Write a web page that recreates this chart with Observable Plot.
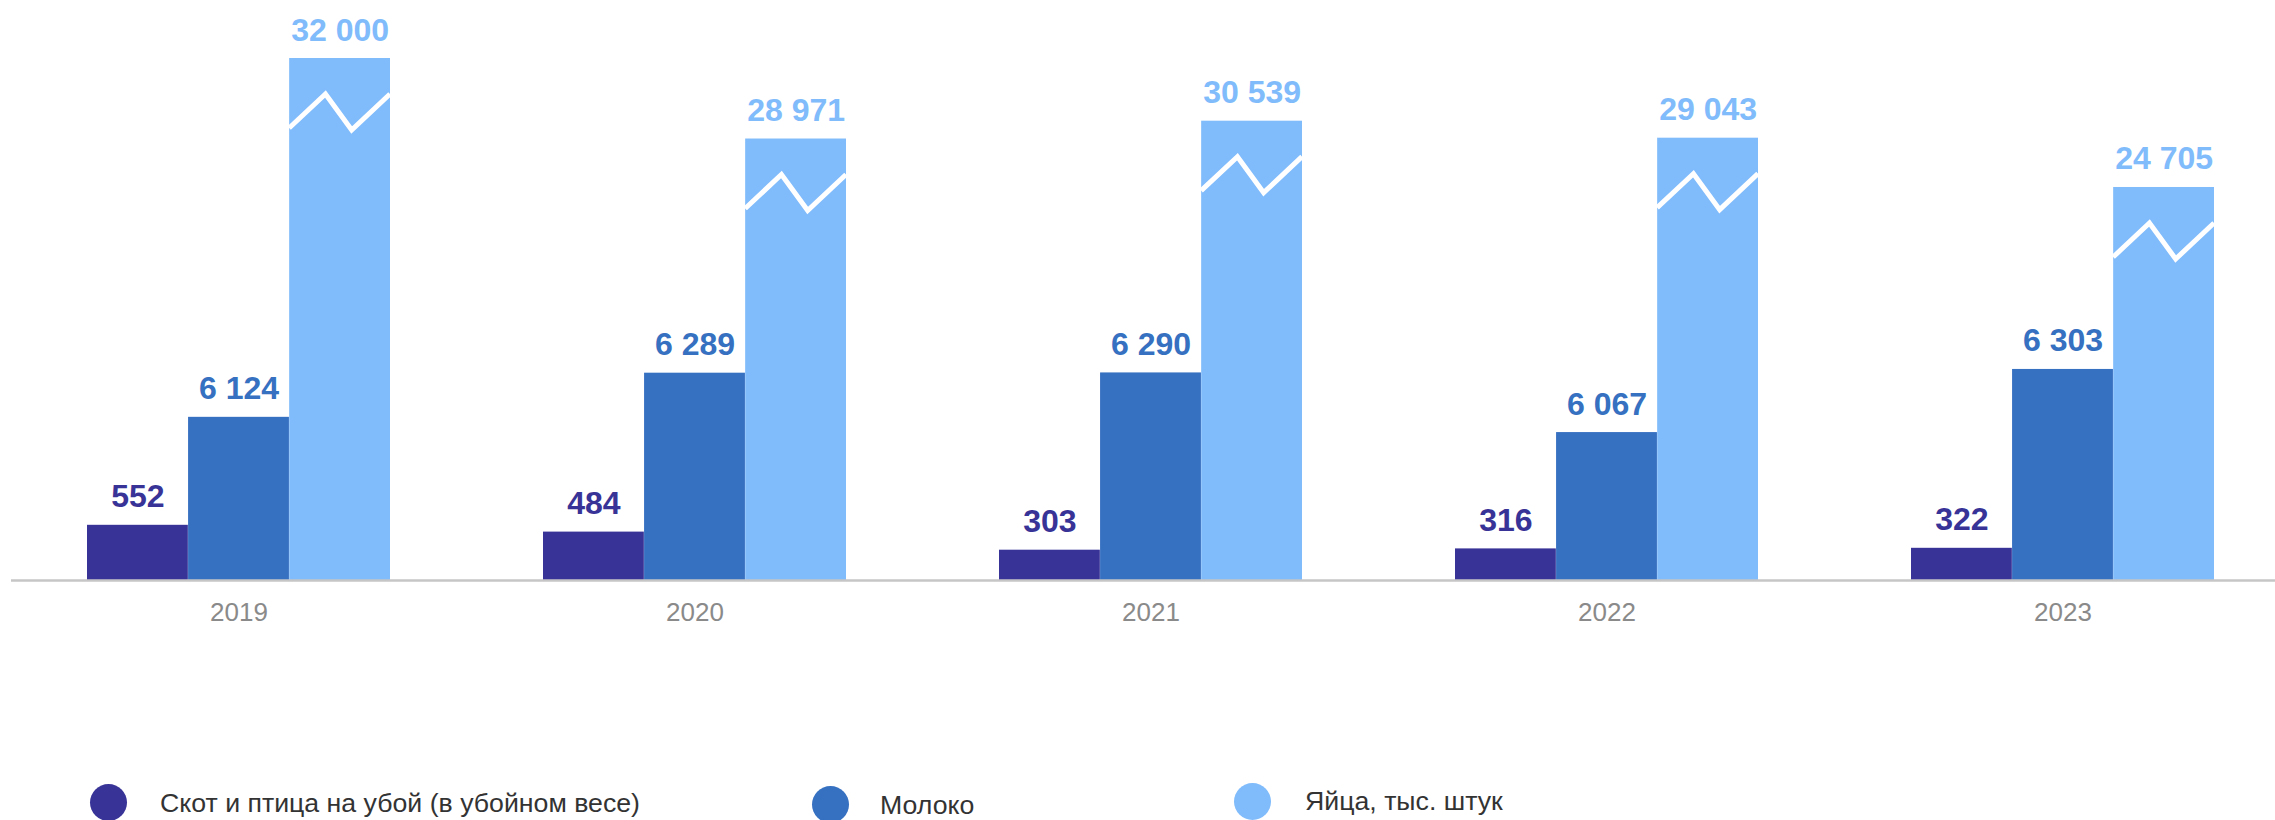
<!DOCTYPE html>
<html lang="ru">
<head>
<meta charset="utf-8">
<script src="https://cdn.jsdelivr.net/npm/d3@7"></script>
<script src="https://cdn.jsdelivr.net/npm/@observablehq/plot@0.6"></script>
<style>
  html, body { margin: 0; padding: 0; background: #fff; overflow: hidden; }
  #wrap { position: relative; width: 2275px; height: 820px; overflow: hidden; font-family: "Liberation Sans", Arial, sans-serif; }
  #chart svg { display: block; max-width: none; }
  .lg-dot { position: absolute; width: 37px; height: 37px; border-radius: 50%; }
  .lg-txt { position: absolute; font-size: 26.7px; line-height: 27px; color: #333; white-space: nowrap; }
</style>
</head>
<body>
<div id="wrap">
  <div id="chart"></div>
  <div id="legend"></div>
</div>
<script>
// ---- data ----
const years = ["2019", "2020", "2021", "2022", "2023"];
const seriesNames = ["Скот и птица на убой (в убойном весе)", "Молоко", "Яйца, тыс. штук"];
const livestock = [552, 484, 303, 316, 322];
const milk = [6124, 6289, 6290, 6067, 6303];
const eggs = [32000, 28971, 30539, 29043, 24705];
const seriesColors = ["#383397", "#3570c1", "#80bbfb"];

const valuesBySeries = [livestock, milk, eggs];
const table = [];
seriesNames.forEach((s, si) => years.forEach((y, yi) => table.push({year: y, series: s, si, value: valuesBySeries[si][yi]})));

const fmt = d3.formatLocale({decimal: ",", thousands: " ", grouping: [3], currency: ["", ""]}).format(",d");

// ---- layout ----
const W = 2275, H = 680;
const xRange = [11, 2291];
const padIn = 0.335, padOut = 0.1675;
const step = (xRange[1] - xRange[0]) / (years.length - padIn + 2 * padOut);
const third = step * (1 - padIn) / 3;

const marks = [];
seriesNames.forEach((s, si) => {
  const rows = table.filter(d => d.si === si);
  marks.push(Plot.barY(rows, {
    x: "year", y: "value", fill: seriesColors[si],
    insetLeft: si * third, insetRight: (2 - si) * third,
    ariaLabel: () => "bars-" + si
  }));
  marks.push(Plot.text(rows, {
    x: "year", y: "value", text: d => fmt(d.value),
    dx: (si - 1) * third, dy: -18, lineAnchor: "bottom",
    fontSize: 32, fontWeight: "bold", fill: seriesColors[si]
  }));
});
marks.push(Plot.ruleY([0], {stroke: "#c6c6c6", strokeWidth: 2.5}));
marks.push(Plot.axisX({tickSize: 0, tickPadding: 22, fontSize: 26, fill: "#8a8a8a", stroke: "none", label: null}));

const plot = Plot.plot({
  width: W, height: H,
  marginLeft: 11, marginRight: 0, marginTop: 0, marginBottom: 100,
  style: {fontFamily: "'Liberation Sans', Arial, sans-serif", background: "#fff", maxWidth: "none"},
  x: {type: "band", domain: years, range: xRange, paddingInner: padIn, paddingOuter: padOut, axis: null, label: null},
  // broken (piecewise) value scale: separate segments for each order of magnitude
  y: {type: "linear", domain: [0, 600, 6000, 6400, 24000, 30600, 32000],
      range: [580, 520, 450, 343, 195, 120, 58], axis: null},
  marks
});
document.getElementById("chart").appendChild(plot);

// scale-break marker (white zigzag) on the egg bars, derived from each drawn bar
const zig = [[0, 70], [0.36, 36], [0.62, 72], [1, 36]];
const eggRects = [];
d3.select(plot).selectAll("rect").each(function () {
  const lab = this.getAttribute("aria-label") || (this.parentNode && this.parentNode.getAttribute("aria-label"));
  const fill = this.getAttribute("fill") || (this.parentNode && this.parentNode.getAttribute("fill"));
  if (lab === "bars-2" || fill === seriesColors[2]) eggRects.push(this);
});
eggRects.forEach(r => {
  const x = +r.getAttribute("x"), y = +r.getAttribute("y"), w = +r.getAttribute("width");
  d3.select(r.parentNode).append("polyline")
    .attr("points", zig.map(([fx, dy]) => `${x + fx * w},${y + dy}`).join(" "))
    .attr("fill", "none").attr("stroke", "#fff").attr("stroke-width", 5)
    .attr("stroke-linejoin", "miter");
});

// ---- legend ----
const legendPos = [
  {dotX: 90, dotY: 784, txtX: 160, txtY: 790},
  {dotX: 812, dotY: 786, txtX: 880, txtY: 792},
  {dotX: 1234, dotY: 783, txtX: 1305, txtY: 788}
];
const lg = document.getElementById("legend");
seriesNames.forEach((s, i) => {
  const p = legendPos[i];
  const dot = document.createElement("div");
  dot.className = "lg-dot";
  dot.style.left = p.dotX + "px"; dot.style.top = p.dotY + "px";
  dot.style.background = seriesColors[i];
  lg.appendChild(dot);
  const t = document.createElement("div");
  t.className = "lg-txt";
  t.style.left = p.txtX + "px"; t.style.top = p.txtY + "px";
  t.textContent = s;
  lg.appendChild(t);
});
</script>
</body>
</html>
